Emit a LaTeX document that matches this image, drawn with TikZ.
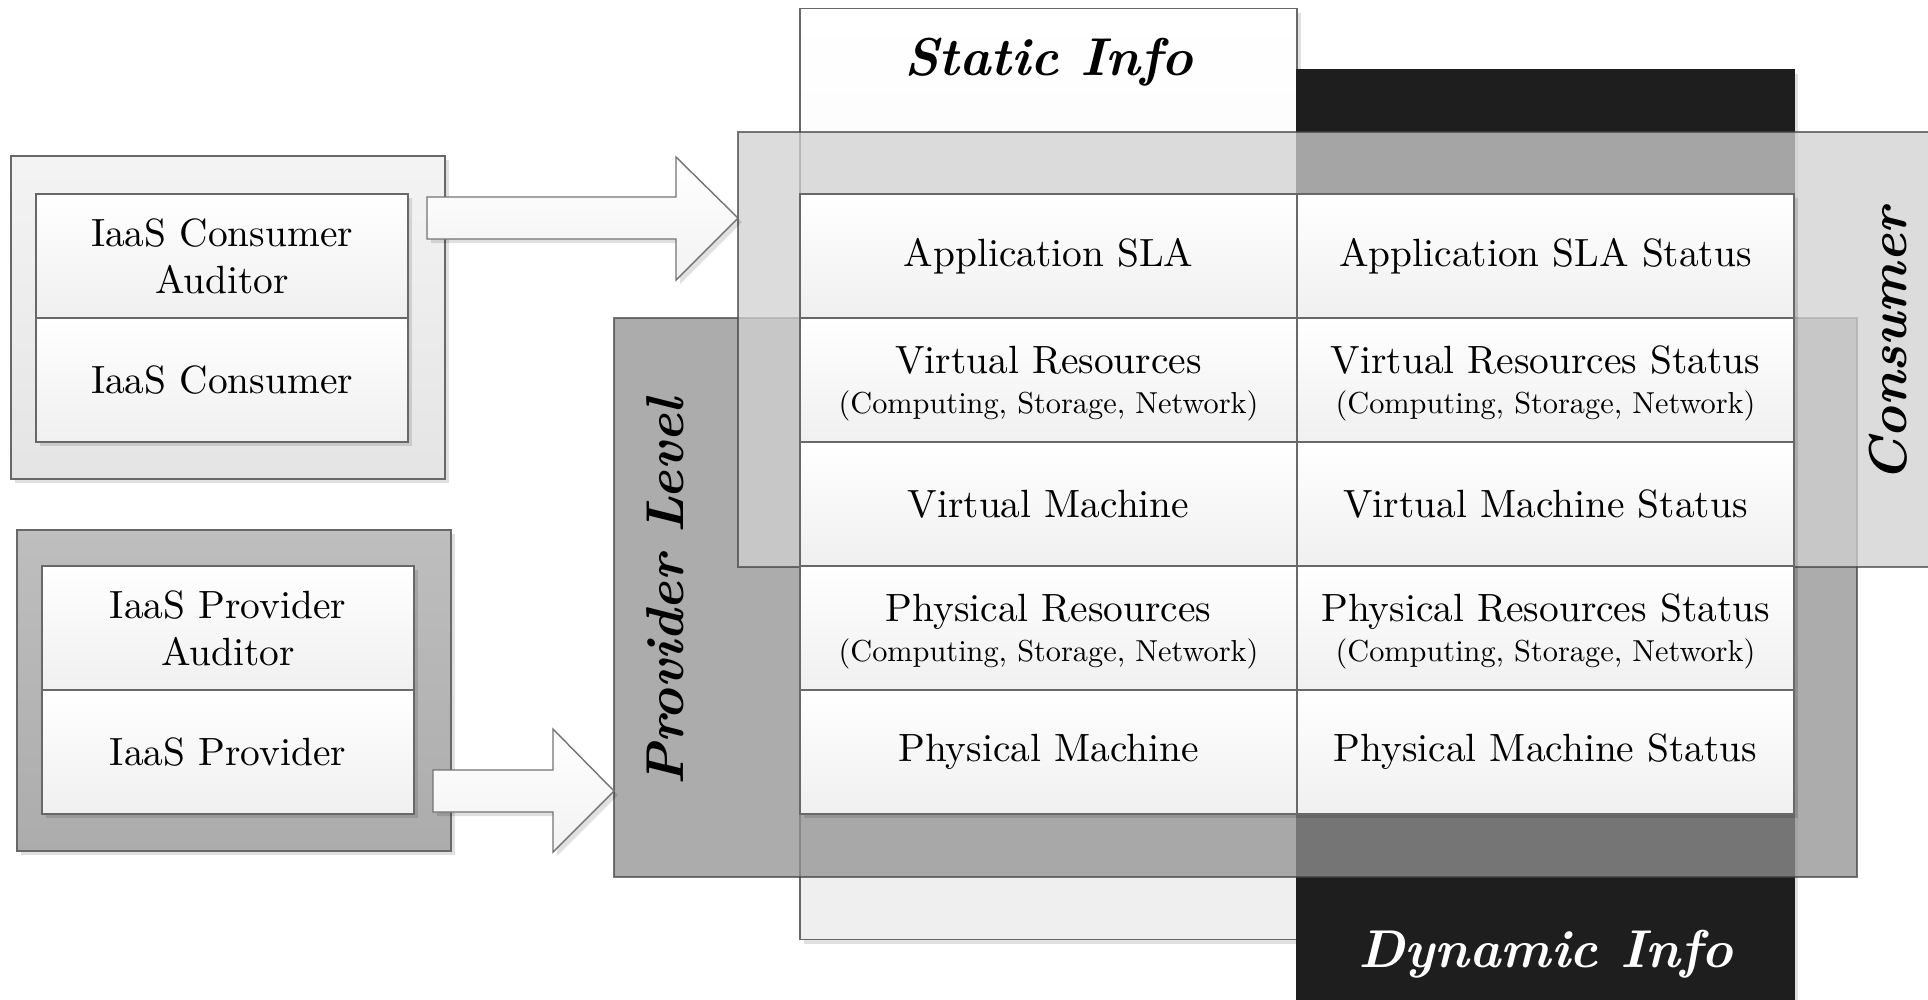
\documentclass[tikz,border=0pt]{standalone}
\usetikzlibrary{shadows,calc}
\definecolor{linec}{HTML}{686868}
\definecolor{dyncol}{HTML}{1E1E1E}
\definecolor{cbandc}{HTML}{D1D1D1}
\definecolor{pbandc}{HTML}{919191}
\newcommand{\mainf}{\fontsize{9.85}{11.75}\selectfont}
\newcommand{\topstrut}{\rule{0pt}{8.6pt}}
\newcommand{\subline}{\\[-1.6pt]\scalebox{0.77}{(Computing, Storage, Network)}}
\newcommand{\labf}{\fontsize{13.3}{16}\selectfont\bfseries\itshape}
\begin{document}
\begin{tikzpicture}[x=0.25pt,y=-0.25pt,
  shad/.style={drop shadow={shadow xshift=1pt,shadow yshift=-1pt,fill=black,opacity=0.12}},
  cell/.style={draw=linec, line width=0.35pt, top color=white, bottom color=gray!12,
    minimum width=124.25pt, minimum height=31pt, inner sep=0pt, outer sep=0pt,
    align=center, font=\mainf, shad},
  grpbox/.style={draw=linec, line width=0.35pt, inner sep=0pt, outer sep=0pt, shad},
  column/.style={draw=linec, line width=0.35pt, inner sep=0pt, outer sep=0pt,
    minimum width=124.25pt, shad},
  band/.style={draw=black!75, draw opacity=0.7, line width=0.35pt, fill opacity=0.756,
    inner sep=0pt, outer sep=0pt},
  lab/.style={font=\labf, inner sep=0pt},
  blockarrow/.style={draw=black!55, line width=0.35pt, top color=white, bottom color=gray!10, shad}
]
\useasboundingbox (0,0) rectangle (1928,999);

% left group boxes
\node[grpbox, top color=gray!9, bottom color=gray!21, minimum width=108.5pt, minimum height=80.75pt] (cgroup) at (228,317.5) {};
\node[cell, minimum width=93pt] (cauditor) at (222,256) {IaaS Consumer\\Auditor};
\node[cell, minimum width=93pt] (cconsumer) at (222,380) {IaaS Consumer};

\node[grpbox, top color=gray!51, bottom color=gray!65, minimum width=108.5pt, minimum height=80.25pt] (pgroup) at (234,690.5) {};
\node[cell, minimum width=93pt] (pauditor) at (228,628) {IaaS Provider\\Auditor};
\node[cell, minimum width=93pt] (pprovider) at (228,752) {IaaS Provider};

% info columns
\node[column, top color=white, bottom color=gray!13, minimum height=232.75pt] (static) at (1048.5,474) {};
\node[column, fill=dyncol, draw=dyncol, minimum height=235pt] (dynamic) at (1545.5,540) {};

% bands
\node[band, fill=pbandc, minimum width=310.75pt, minimum height=139.75pt] (pband) at (1235.5,597.5) {};
\node[band, fill=cbandc, minimum width=302pt, minimum height=108.75pt] (cband) at (1342,349.5) {};

% table
\node[cell] (a1) at (1048.5,256) {Application SLA};
\node[cell] (b1) at (1545.5,256) {Application SLA Status};
\node[cell] (a2) at (1048.5,380) {\topstrut Virtual Resources\subline};
\node[cell] (b2) at (1545.5,380) {\topstrut Virtual Resources Status\subline};
\node[cell] (a3) at (1048.5,504) {Virtual Machine};
\node[cell] (b3) at (1545.5,504) {Virtual Machine Status};
\node[cell] (a4) at (1048.5,628) {\topstrut Physical Resources\subline};
\node[cell] (b4) at (1545.5,628) {\topstrut Physical Resources Status\subline};
\node[cell] (a5) at (1048.5,752) {Physical Machine};
\node[cell] (b5) at (1545.5,752) {Physical Machine Status};

% labels
\node[lab] (statictxt) at (1048.5,62) {Static Info};
\node[lab, text=white] (dyntxt) at (1545.5,954) {Dynamic Info};
\node[lab, rotate=90] (conslab) at (1888,345) {Consumer};
\node[lab, rotate=90] (provlab) at (665,592) {Provider Level};

% block arrows
\coordinate (a1s) at (427,218);
\coordinate (a1t) at (cband.west |- a1s);
\draw[blockarrow] (a1s) ++(0,-21) -- ++(249,0) -- ++(0,-40) -- (a1t) -- ++(-62,62) -- ++(0,-41) -- ++(-249,0) -- cycle;
\coordinate (a2s) at (433,791);
\coordinate (a2t) at (pband.west |- a2s);
\draw[blockarrow] (a2s) ++(0,-21) -- ++(120,0) -- ++(0,-41) -- (a2t) -- ++(-61,61) -- ++(0,-40) -- ++(-120,0) -- cycle;
\end{tikzpicture}
\end{document}
